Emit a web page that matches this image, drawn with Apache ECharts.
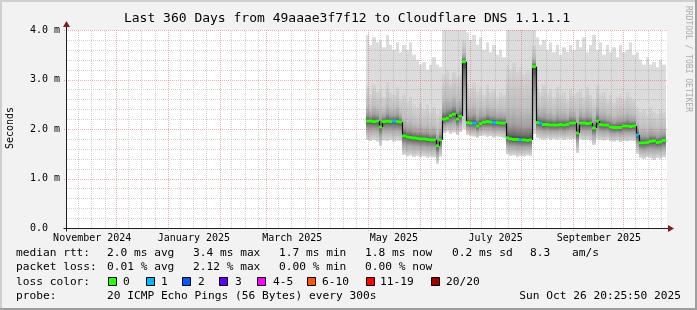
<!DOCTYPE html>
<html><head><meta charset="utf-8">
<script src="https://cdn.jsdelivr.net/npm/echarts@6/dist/echarts.min.js"></script>
<style>html,body{margin:0;padding:0;background:#f2f2f2}#c{width:697px;height:310px}</style>
</head><body><div id="c"></div>
<script>
const DAY = 86400000;
const END_TIME = Date.UTC(2025, 9, 26, 20, 25, 50);
const START_TIME = END_TIME - 360 * DAY;
const FIRST_BUCKET = Date.UTC(2025, 3, 29);
const BUCKET_MS = 2 * DAY;

// median RTT per 2-day bucket (ms)
const medianRtt = [2.16,2.16,2.15,2.16,2.04,2.15,2.16,2.15,2.16,2.15,2.14,
 1.86,1.84,1.83,1.82,1.81,1.80,1.80,1.79,1.78,1.78,1.66,1.78,
 2.20,2.22,2.27,2.30,2.20,2.26,
 3.36,
 2.13,2.12,2.12,2.06,2.11,2.14,2.15,2.14,2.13,2.13,2.12,2.12,
 1.82,1.80,1.79,1.79,1.78,1.78,1.77,1.78,
 3.26,
 2.13,2.12,2.09,2.09,2.08,2.08,2.08,2.09,2.08,2.09,2.12,2.12,
 1.92,2.12,2.12,2.11,2.12,2.02,2.16,2.09,2.08,2.08,2.04,2.03,2.03,2.03,2.06,2.06,2.05,2.06,
 1.88,1.72,1.72,1.73,1.75,1.76,1.73,1.74,1.77];
// lowest ping per bucket (ms)
const minRtt = [1.78,1.76,1.78,1.75,1.66,1.77,1.76,1.78,1.75,1.77,1.76,
 1.48,1.45,1.47,1.44,1.46,1.43,1.45,1.42,1.44,1.43,1.30,1.44,
 1.92,1.95,1.90,1.93,1.88,1.94,
 2.00,
 1.88,1.86,1.85,1.82,1.86,1.87,1.84,1.86,1.83,1.85,1.84,1.82,
 1.49,1.46,1.47,1.44,1.46,1.45,1.47,1.46,
 1.90,
 1.82,1.80,1.79,1.81,1.78,1.80,1.79,1.81,1.78,1.80,1.79,1.80,
 1.52,1.80,1.78,1.79,1.77,1.68,1.80,1.78,1.77,1.79,1.76,1.75,1.77,1.74,1.76,1.75,1.77,1.76,
 1.50,1.42,1.40,1.43,1.41,1.38,1.42,1.40,1.43];
// upper edge of the dense smoke band (ms)
const upperRtt = [2.85,2.70,2.90,2.75,2.80,2.65,2.95,2.75,2.70,2.85,2.60,
 2.70,2.55,2.65,2.50,2.45,2.55,2.40,2.50,2.35,2.45,2.30,2.40,
 3.10,3.20,3.00,3.15,3.05,3.10,
 3.80,
 2.90,2.80,2.95,2.75,2.85,2.70,2.90,2.75,2.80,2.65,2.75,2.70,
 3.30,3.20,3.35,3.15,3.25,3.10,3.20,3.15,
 3.70,
 2.85,2.75,2.90,2.70,2.80,2.65,2.85,2.70,2.75,2.60,2.80,2.70,
 2.75,2.80,2.65,2.85,2.70,2.60,2.90,2.70,2.75,2.60,2.70,2.55,2.65,2.70,2.60,2.75,2.65,2.60,
 2.45,2.35,2.40,2.30,2.45,2.35,2.30,2.40,2.35];
// highest ping per bucket (ms)
const maxRtt = [3.90,3.70,3.85,3.75,3.80,3.65,3.90,3.70,3.60,3.75,3.55,
 3.70,3.60,3.75,3.50,3.40,3.30,3.35,3.20,3.30,3.45,3.30,3.25,
 4.10,4.10,4.10,4.10,4.10,4.10,
 4.10,
 3.95,3.80,3.90,3.70,3.85,3.60,3.75,3.55,3.70,3.50,3.60,3.45,
 4.10,4.10,4.10,4.10,4.10,4.10,4.10,4.10,
 4.10,
 3.85,3.70,3.80,3.60,3.75,3.55,3.70,3.50,3.65,3.55,3.70,3.60,
 3.80,3.65,3.85,3.55,3.70,3.90,3.60,3.75,3.50,3.70,3.55,3.65,3.45,3.70,3.55,3.60,3.75,3.50,
 3.55,3.40,3.30,3.45,3.30,3.35,3.25,3.40,3.30];
// lost pings per bucket
const lossCount = [0,0,0,0,0,0,0,0,1,0,0, 0,0,0,0,0,0,0,0,0,0,0,0, 0,0,0,0,0,0, 0,
 0,0,1,0,0,0,0,0,1,0,0,0, 0,0,0,0,1,0,0,0, 0, 0,1,0,0,0,0,0,0,0,0,0,0,
 0,0,0,0,0,0,0,0,0,0,0,0,0,0,0,0,0,0, 1,0,0,0,0,0,0,0,0];

const yTicks = [0, 1, 2, 3, 4];
const yTickLabels = ['0.0', '1.0 m', '2.0 m', '3.0 m', '4.0 m'];
const monthLabels = ['November 2024', 'January 2025', 'March 2025', 'May 2025', 'July 2025', 'September 2025'];
const monthLabelStarts = ['2024-11-01', '2025-01-01', '2025-03-01', '2025-05-01', '2025-07-01', '2025-09-01'];
const majorGridMonths = ['2024-11-01','2024-12-01','2025-01-01','2025-02-01','2025-03-01','2025-04-01','2025-05-01','2025-06-01','2025-07-01','2025-08-01','2025-09-01','2025-10-01'];
const minorGridDaysOfMonth = [8, 16, 24];

const lossLabels = ['0', '1', '2', '3', '4-5', '6-10', '11-19', '20/20'];
const lossColors = ['#26ff00', '#00b8ff', '#0059ff', '#5e00ff', '#ff00ff', '#ff5500', '#ff0000', '#a10000'];
const statRows = [
  ['median rtt:', '2.0 ms avg', '3.4 ms max', '1.7 ms min', '1.8 ms now', '0.2 ms sd', '8.3', 'am/s'],
  ['packet loss:', '0.01 % avg', '2.12 % max', '0.00 % min', '0.00 % now']
];
const titleText = 'Last 360 Days from 49aaae3f7f12 to Cloudflare DNS 1.1.1.1';
const probeText = '20 ICMP Echo Pings (56 Bytes) every 300s';
const dateText = 'Sun Oct 26 20:25:50 2025';

const MONO = '"DejaVu Sans Mono", monospace';
const ms = s => Date.parse(s + 'T00:00:00Z');

const smokeData = medianRtt.map((m, i) => [FIRST_BUCKET + i * BUCKET_MS, minRtt[i], m, upperRtt[i], maxRtt[i], lossCount[i], i > 0 ? medianRtt[i - 1] : m]);

const gridData = [];
for (let v = 0; v <= 4.0001; v += 0.2) {
  const r = Math.round(v * 10) / 10;
  gridData.push([0, r, Math.abs(r - Math.round(r)) < 1e-6 ? 1 : 0]);
}
majorGridMonths.forEach(d => gridData.push([1, ms(d), 1]));
majorGridMonths.forEach(d => minorGridDaysOfMonth.forEach(day => {
  const t = ms(d) + (day - 1) * DAY;
  if (t > START_TIME && t < END_TIME) gridData.push([1, t, 0]);
}));

function bucketX(api, t0) {
  const x0 = Math.round(api.coord([t0, 0])[0]);
  const x1 = Math.round(api.coord([t0 + BUCKET_MS, 0])[0]);
  return [x0, x1 - x0];
}

function smokeItem(params, api) {
  const t0 = api.value(0);
  const [x0, w] = bucketX(api, t0);
  const y = v => api.coord([t0, v])[1];
  const yMin = y(api.value(1)), yMed = y(api.value(2)), yUp = y(api.value(3)), yMax = y(api.value(4));
  return { type: 'group', children: [
    { type: 'rect', shape: { x: x0, y: yMax, width: w, height: yMin - yMax }, style: { fill: '#dcdcdc' } },
    { type: 'rect', shape: { x: x0, y: yUp, width: w, height: yMed - yUp }, style: { fill: { type: 'linear', x: 0, y: 0, x2: 0, y2: 1, colorStops: [
      { offset: 0, color: '#d4d4d4' }, { offset: 0.55, color: '#bfbfbf' }, { offset: 0.8, color: '#a0a0a0' }, { offset: 0.93, color: '#707070' }, { offset: 1, color: '#3c3c3c' }] } } },
    { type: 'rect', shape: { x: x0, y: yMed, width: w, height: yMin - yMed }, style: { fill: { type: 'linear', x: 0, y: 0, x2: 0, y2: 1, colorStops: [
      { offset: 0, color: '#3c3c3c' }, { offset: 0.15, color: '#707070' }, { offset: 0.45, color: '#a8a8a8' }, { offset: 1, color: '#d8d8d8' }] } } }
  ] };
}

function medianItem(params, api) {
  const t0 = api.value(0);
  const [x0, w] = bucketX(api, t0);
  const yMed = api.coord([t0, api.value(2)])[1];
  const yPrev = api.coord([t0, api.value(6)])[1];
  const children = [];
  if (Math.abs(yPrev - yMed) > 3) {
    children.push({ type: 'line', shape: { x1: x0 + 0.5, y1: yPrev, x2: x0 + 0.5, y2: yMed }, style: { stroke: '#111', lineWidth: 1.2 } });
  }
  children.push({ type: 'rect', shape: { x: x0, y: yMed - 1.5, width: w, height: 3 }, style: { fill: lossColors[api.value(5)] } });
  return { type: 'group', children };
}

function gridItem(params, api) {
  const kind = api.value(0), v = api.value(1), major = api.value(2);
  const stroke = major ? 'rgba(222,79,79,0.45)' : 'rgba(140,140,140,0.38)';
  if (kind === 0) {
    const yy = Math.round(api.coord([START_TIME, v])[1]) + 0.5;
    const xa = api.coord([START_TIME, 0])[0] - (major ? 3 : 0);
    const xb = api.coord([END_TIME, 0])[0];
    return { type: 'line', shape: { x1: xa, y1: yy, x2: xb, y2: yy }, style: { stroke, lineWidth: 1, lineDash: [1, 1] } };
  }
  const xx = Math.round(api.coord([v, 0])[0]) - 0.5;
  const ya = api.coord([v, 0])[1] + (major ? 3 : 0);
  const yb = api.coord([v, 4])[1];
  return { type: 'line', shape: { x1: xx, y1: ya, x2: xx, y2: yb }, style: { stroke, lineWidth: 1, lineDash: [1, 1] } };
}

function axesItem(params, api) {
  const o = api.coord([START_TIME, 0]);
  const e = api.coord([END_TIME, 0]);
  const t = api.coord([START_TIME, 4]);
  const ax = Math.round(o[0]) - 0.5, ay = Math.round(o[1]) + 0.5;
  return { type: 'group', children: [
    { type: 'line', shape: { x1: ax, y1: ay + 3, x2: ax, y2: t[1] - 4 }, style: { stroke: '#1f1f1f', lineWidth: 1 } },
    { type: 'line', shape: { x1: ax - 3, y1: ay, x2: e[0] + 2, y2: ay }, style: { stroke: '#1f1f1f', lineWidth: 1 } },
    { type: 'polygon', shape: { points: [[ax - 3.5, t[1] - 3], [ax + 3.5, t[1] - 3], [ax, t[1] - 9]] }, style: { fill: '#801f1f' } },
    { type: 'polygon', shape: { points: [[e[0] + 1, ay - 3.5], [e[0] + 1, ay + 3.5], [e[0] + 7, ay]] }, style: { fill: '#801f1f' } }
  ] };
}

function monthLabelItem(params, api) {
  const idx = api.value(1);
  const p = api.coord([api.value(0) + 15 * DAY, 0]);
  return { type: 'text', x: p[0], y: p[1] + 10, style: { text: monthLabels[idx], font: '10px ' + MONO, fill: '#000', align: 'center', verticalAlign: 'middle' } };
}

const graphics = [];
graphics.push({ type: 'rect', shape: { x: 0, y: 0, width: 697, height: 2 }, style: { fill: '#cfcfcf' } });
graphics.push({ type: 'rect', shape: { x: 0, y: 0, width: 2, height: 310 }, style: { fill: '#cfcfcf' } });
graphics.push({ type: 'rect', shape: { x: 0, y: 308, width: 697, height: 2 }, style: { fill: '#9e9e9e' } });
graphics.push({ type: 'rect', shape: { x: 695, y: 0, width: 2, height: 310 }, style: { fill: '#9e9e9e' } });
function txt(text, x, y, size, align) {
  align = align || 'left';
  return { type: 'text', x, y, style: { text, font: size + 'px ' + MONO, fill: '#000', textAlign: align, align: align, textVerticalAlign: 'middle', verticalAlign: 'middle' } };
}
graphics.push(txt(titleText, 347, 19, 13, 'center'));
graphics.push({ type: 'text', x: 10.5, y: 128, rotation: Math.PI / 2, style: { text: 'Seconds', font: '10px ' + MONO, fill: '#000', textAlign: 'center', align: 'center', textVerticalAlign: 'middle', verticalAlign: 'middle' } });
graphics.push({ type: 'text', x: 688, y: 59, rotation: -Math.PI / 2, style: { text: 'RRDTOOL / TOBI OETIKER', font: '8px ' + MONO, fill: '#aaaaaa', textAlign: 'center', align: 'center', textVerticalAlign: 'middle', verticalAlign: 'middle' } });
const colX = [16, 107, 193, 279, 365, 452, 530, 572];
const rowY = [253, 267.5, 282, 296.5];
statRows.forEach((row, r) => row.forEach((s, c) => graphics.push(txt(s, colX[c], rowY[r], 11.2))));
graphics.push(txt('loss color:', 16, rowY[2], 11.2));
const boxX = [108, 146, 182, 219, 257, 307, 366, 431];
const labX = [123, 161, 198, 235, 273, 322, 380, 446];
lossLabels.forEach((l, i) => {
  graphics.push({ type: 'rect', shape: { x: boxX[i] + 0.5, y: 277.5, width: 8, height: 8 }, style: { fill: lossColors[i], stroke: '#000', lineWidth: 1 } });
  graphics.push(txt(l, labX[i], rowY[2], 11.2));
});
graphics.push(txt('probe:', 16, rowY[3], 11.2));
graphics.push(txt(probeText, 107, rowY[3], 11.2));
graphics.push(txt(dateText, 681, rowY[3], 11.2, 'right'));

const chart = echarts.init(document.getElementById('c'), null, { renderer: 'canvas' });
chart.setOption({
  animation: false,
  backgroundColor: '#f2f2f2',
  grid: { left: 67, right: 30, top: 30, bottom: 82, show: true, backgroundColor: '#ffffff', borderWidth: 0 },
  xAxis: { type: 'value', min: START_TIME, max: END_TIME, axisLabel: { show: false }, axisLine: { show: false }, axisTick: { show: false }, splitLine: { show: false } },
  yAxis: { type: 'value', min: 0, max: 4, interval: 1,
    axisLine: { show: false }, axisTick: { show: false }, splitLine: { show: false },
    axisLabel: { align: 'left', margin: 37, fontFamily: '"DejaVu Sans Mono", monospace', fontSize: 10, color: '#000',
      formatter: v => yTickLabels[yTicks.indexOf(Math.round(v))] } },
  graphic: graphics,
  series: [
    { type: 'custom', name: 'smoke', clip: true, z: 1, data: smokeData, renderItem: smokeItem, encode: { x: 0, y: 2 } },
    { type: 'custom', name: 'grid', clip: false, z: 2, data: gridData, renderItem: gridItem, encode: { x: 1, y: 1 } },
    { type: 'custom', name: 'median', clip: true, z: 3, data: smokeData, renderItem: medianItem, encode: { x: 0, y: 2 } },
    { type: 'custom', name: 'axes', clip: false, z: 4, data: [[START_TIME, 0]], renderItem: axesItem, encode: { x: 0, y: 1 } },
    { type: 'custom', name: 'months', clip: false, z: 4, data: monthLabelStarts.map((d, i) => [ms(d), i]), renderItem: monthLabelItem, encode: { x: 0, y: 1 } }
  ]
});
</script>
</body></html>
